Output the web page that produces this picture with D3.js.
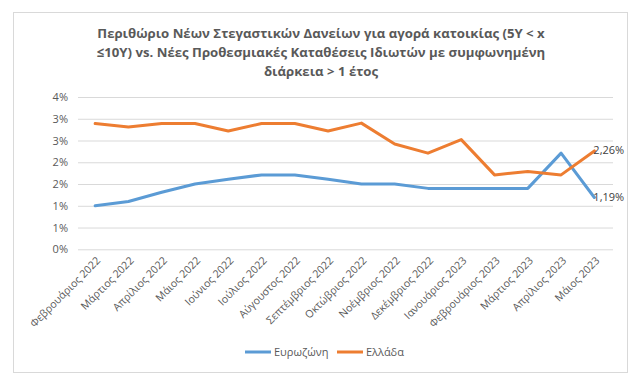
<!DOCTYPE html>
<html><head><meta charset="utf-8">
<script src="https://cdn.jsdelivr.net/npm/d3@7"></script>
<style>body{margin:0;background:#fff}svg{display:block}</style>
</head><body>
<svg id="c" width="641" height="385"></svg>
<script>
const categories = ["Φεβρουάριος 2022","Μάρτιος 2022","Απρίλιος 2022","Μάιος 2022","Ιούνιος 2022","Ιούλιος 2022","Αύγουστος 2022","Σεπτέμβριος 2022","Οκτώβριος 2022","Νοέμβριος 2022","Δεκέμβριος 2022","Ιανουάριος 2023","Φεβρουάριος 2023","Μάρτιος 2023","Απρίλιος 2023","Μάιος 2023"];
const eurozone = [1.00,1.10,1.31,1.50,1.61,1.71,1.71,1.61,1.50,1.50,1.40,1.40,1.40,1.40,2.21,1.19];
const greece   = [2.89,2.81,2.89,2.89,2.72,2.89,2.89,2.72,2.90,2.42,2.21,2.52,1.71,1.79,1.71,2.26];
const yTicks = [0,0.5,1,1.5,2,2.5,3,3.5];
const seriesNames = ["Ευρωζώνη","Ελλάδα"];
const titleLines = ["Περιθώριο Νέων Στεγαστικών Δανείων για αγορά κατοικίας (5Y < x","≤10Y) vs. Νέες Προθεσμιακές Καταθέσεις Ιδιωτών με συμφωνημένη","διάρκεια > 1 έτος"];

const svg = d3.select("#c");
const font = "'Open Sans', 'Noto Sans', sans-serif";
const colors = ["#5B9BD5","#ED7D31"];

svg.append("rect").attr("x",13.5).attr("y",12.5).attr("width",614).attr("height",360)
  .attr("fill","#fff").attr("stroke","#D9D9D9");

const title = svg.append("text").attr("font-family",font).attr("font-weight","bold")
  .attr("font-size",13.2).attr("fill","#595959").attr("text-anchor","middle");
titleLines.forEach((t,i)=>title.append("tspan").attr("x",321).attr("y",38+i*19).text(t));

const x = d3.scaleBand().domain(categories).range([78.5,611]);
const y = d3.scaleLinear().domain([0,3.5]).range([249.3,97]);

const yAxis = svg.append("g").attr("transform","translate(78,0)")
  .call(d3.axisLeft(y).tickValues(yTicks).tickSize(-535).tickFormat(d=>Math.round(d)+"%"));
yAxis.select(".domain").remove();
yAxis.selectAll(".tick line").attr("stroke","#D9D9D9");
yAxis.selectAll(".tick text").attr("x",-10).attr("font-family",font).attr("font-size",11).attr("fill","#595959");

const xAxis = svg.append("g").attr("transform","translate(0,249.3)")
  .call(d3.axisBottom(x).tickSize(0));
xAxis.select(".domain").remove();
xAxis.selectAll(".tick text").attr("font-family",font).attr("font-size",10.6).attr("fill","#595959")
  .attr("text-anchor","end").attr("dy",0).attr("y",0)
  .attr("transform","translate(6,12) rotate(-45)");

const line = d3.line().x((d,i)=>x(categories[i])+x.bandwidth()/2).y(d=>y(d));
[eurozone,greece].forEach((s,k)=>{
  svg.append("path").datum(s).attr("d",line).attr("fill","none")
    .attr("stroke",colors[k]).attr("stroke-width",3).attr("stroke-linejoin","round").attr("stroke-linecap","round");
});

const fmtLabel = v => v.toFixed(2).replace(".",",")+"%";
[eurozone,greece].forEach((s,k)=>{
  const n = s.length-1;
  svg.append("text").attr("x",x(categories[n])+x.bandwidth()/2-1).attr("y",y(s[n])+3)
    .attr("font-family",font).attr("font-size",11).attr("fill","#404040").text(fmtLabel(s[n]));
});

const legend = svg.append("g");
const lx = [245,337];
seriesNames.forEach((n,k)=>{
  legend.append("line").attr("x1",lx[k]).attr("x2",lx[k]+26).attr("y1",352).attr("y2",352)
    .attr("stroke",colors[k]).attr("stroke-width",3);
  legend.append("text").attr("x",lx[k]+29).attr("y",356).attr("font-family",font).attr("font-size",11)
    .attr("fill","#595959").text(n);
});
</script>
</body></html>
